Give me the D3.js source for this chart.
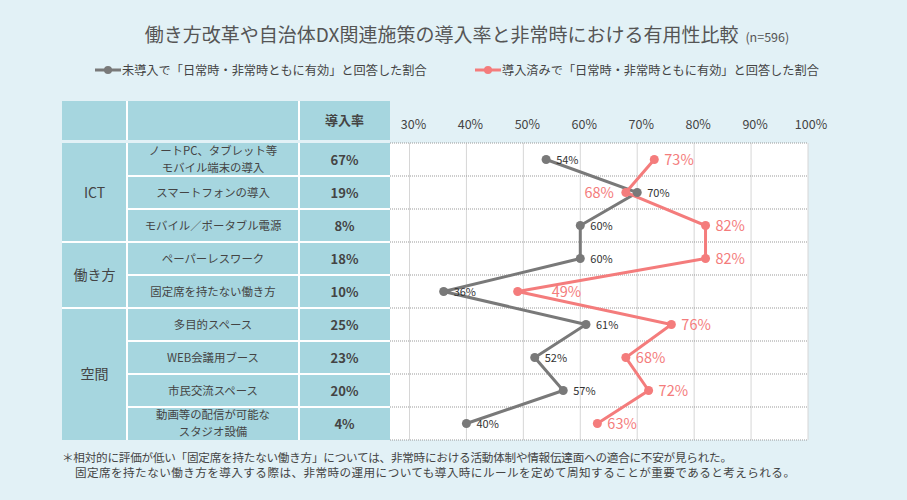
<!DOCTYPE html>
<html>
<head>
<meta charset="utf-8">
<script src="https://cdn.jsdelivr.net/npm/d3@7"></script>
<style>
  body { margin: 0; background: #e2f1f6; }
  svg { display: block; font-family: "Noto Sans CJK JP", "Noto Sans", sans-serif; }
</style>
</head>
<body>
<svg id="chart" width="907" height="500"></svg>
<script>
// data
var groups = [
  {name: "ICT", rows: 3},
  {name: "働き方", rows: 2},
  {name: "空間", rows: 4}
];
var items = [
  ["ノートPC、タブレット等", "モバイル端末の導入"],
  ["スマートフォンの導入"],
  ["モバイル／ポータブル電源"],
  ["ペーパーレスワーク"],
  ["固定席を持たない働き方"],
  ["多目的スペース"],
  ["WEB会議用ブース"],
  ["市民交流スペース"],
  ["動画等の配信が可能な", "スタジオ設備"]
];
var adoption = [67, 19, 8, 18, 10, 25, 23, 20, 4];
var notAdopted = [54, 70, 60, 60, 36, 61, 52, 57, 40];
var adopted = [73, 68, 82, 82, 49, 76, 68, 72, 63];
var ticks = [30, 40, 50, 60, 70, 80, 90, 100];

var grayColor = "#797979";
var pinkColor = "#f47c7c";
var cellColor = "#a6d6df";
var textColor = "#444";

var svg = d3.select("#chart");

// title
var title = svg.append("text")
  .attr("x", 467)
  .attr("y", 41.5)
  .attr("text-anchor", "middle")
  .style("fill", "#555")
  .style("font-size", "19px");
title.append("tspan").text("働き方改革や自治体DX関連施策の導入率と非常時における有用性比較");
title.append("tspan").attr("dx", 7).style("font-size", "12.5px").text("(n=596)");

// legend
var legend = [
  {x: 95, color: grayColor, label: "未導入で「日常時・非常時ともに有効」と回答した割合"},
  {x: 475, color: pinkColor, label: "導入済みで「日常時・非常時ともに有効」と回答した割合"}
];
legend.forEach(function(l) {
  var g = svg.append("g").attr("transform", "translate(" + l.x + ",70)");
  g.append("line").attr("x1", 0).attr("x2", 26).attr("y1", 0).attr("y2", 0)
    .style("stroke", l.color).style("stroke-width", 3);
  g.append("circle").attr("cx", 13).attr("cy", 0).attr("r", 4).style("fill", l.color);
  g.append("text").attr("x", 27).attr("y", 4.5)
    .style("font-size", "12.2px").style("fill", textColor).text(l.label);
});

// layout
var tableX = [62, 127, 299, 390];
var headTop = 101, headBottom = 140;
var rowTop = 143, rowH = 33;

var x = d3.scaleLinear().domain([30, 100]).range([409.5, 808]);
var y = d3.scaleBand().domain(d3.range(items.length))
  .range([rowTop, rowTop + rowH * items.length]);
var yc = function(i) { return y(i) + y.bandwidth() / 2; };

// table header
svg.append("rect").attr("x", tableX[0]).attr("y", headTop)
  .attr("width", tableX[3] - tableX[0]).attr("height", headBottom - headTop)
  .style("fill", cellColor);
[tableX[1], tableX[2]].forEach(function(cx) {
  svg.append("line").attr("x1", cx).attr("x2", cx).attr("y1", headTop).attr("y2", headBottom)
    .style("stroke", "#fff").style("stroke-width", 2);
});
svg.append("text").attr("x", (tableX[2] + tableX[3]) / 2).attr("y", 125)
  .attr("text-anchor", "middle").style("font-size", "13px").style("font-weight", "bold")
  .style("fill", textColor).text("導入率");

// table body
var body = svg.append("g");
body.append("rect").attr("x", tableX[0]).attr("y", rowTop)
  .attr("width", tableX[3] - tableX[0]).attr("height", rowH * items.length)
  .style("fill", cellColor);

// row separators for item + rate columns
body.selectAll(".rowline").data(d3.range(1, items.length)).enter().append("line")
  .attr("x1", tableX[1]).attr("x2", tableX[3])
  .attr("y1", function(i) { return y(i); }).attr("y2", function(i) { return y(i); })
  .style("stroke", "#fff").style("stroke-width", 2);

// group separators and labels
var start = 0;
groups.forEach(function(gr, gi) {
  var top = y(start), bot = y(start + gr.rows - 1) + y.bandwidth();
  if (gi > 0) {
    body.append("line").attr("x1", tableX[0]).attr("x2", tableX[1])
      .attr("y1", top).attr("y2", top).style("stroke", "#fff").style("stroke-width", 2);
  }
  body.append("text").attr("x", (tableX[0] + tableX[1]) / 2).attr("y", (top + bot) / 2 + 5)
    .attr("text-anchor", "middle").style("font-size", "14px").style("fill", textColor)
    .text(gr.name);
  start += gr.rows;
});
[tableX[1], tableX[2]].forEach(function(cx) {
  body.append("line").attr("x1", cx).attr("x2", cx).attr("y1", rowTop)
    .attr("y2", rowTop + rowH * items.length).style("stroke", "#fff").style("stroke-width", 2);
});

// item names, one text per line
items.forEach(function(d, i) {
  var lh = 16.6;
  var y0 = yc(i) + 4 - (d.length - 1) * lh / 2;
  d.forEach(function(s, k) {
    body.append("text")
      .attr("x", (tableX[1] + tableX[2]) / 2)
      .attr("y", y0 + k * lh)
      .attr("text-anchor", "middle")
      .style("font-size", "11.4px").style("fill", textColor)
      .text(s);
  });
});

// adoption rates
body.selectAll(".rate").data(adoption).enter().append("text")
  .attr("x", (tableX[2] + tableX[3]) / 2)
  .attr("y", function(d, i) { return yc(i) + 5; })
  .attr("text-anchor", "middle")
  .style("font-size", "13px").style("font-weight", "bold").style("fill", textColor)
  .text(function(d) { return d + "%"; });

// plot area
var plot = svg.append("g");
plot.append("rect").attr("x", tableX[3]).attr("y", rowTop)
  .attr("width", x(100) - tableX[3]).attr("height", rowH * items.length)
  .style("fill", "#fff");

plot.selectAll(".vgrid").data(ticks).enter().append("line")
  .attr("x1", function(d) { return x(d); }).attr("x2", function(d) { return x(d); })
  .attr("y1", rowTop).attr("y2", rowTop + rowH * items.length)
  .style("stroke", "#d6d6d6").style("stroke-width", 1);

plot.selectAll(".hgrid").data(d3.range(items.length + 1)).enter().append("line")
  .attr("x1", tableX[3]).attr("x2", x(100))
  .attr("y1", function(i) { return rowTop + i * rowH; })
  .attr("y2", function(i) { return rowTop + i * rowH; })
  .style("stroke", "#999").style("stroke-width", 1).style("stroke-dasharray", "1,1");

// tick labels
svg.selectAll(".tick").data(ticks).enter().append("text")
  .attr("x", function(d) { return x(d) + (d === 100 ? 3 : 4); })
  .attr("y", 129)
  .attr("text-anchor", "middle")
  .style("font-size", "12.5px").style("fill", textColor)
  .text(function(d) { return d + "%"; });

// lines
var line = d3.line().x(function(d) { return x(d); }).y(function(d, i) { return yc(i); });

plot.append("path").datum(notAdopted).attr("d", line)
  .style("fill", "none").style("stroke", grayColor).style("stroke-width", 3);
plot.append("path").datum(adopted).attr("d", line)
  .style("fill", "none").style("stroke", pinkColor).style("stroke-width", 3);

plot.selectAll(".gdot").data(notAdopted).enter().append("circle")
  .attr("cx", function(d) { return x(d); }).attr("cy", function(d, i) { return yc(i); })
  .attr("r", 4.5).style("fill", grayColor);
plot.selectAll(".pdot").data(adopted).enter().append("circle")
  .attr("cx", function(d) { return x(d); }).attr("cy", function(d, i) { return yc(i); })
  .attr("r", 4.5).style("fill", pinkColor);

// value labels
plot.selectAll(".glab").data(notAdopted).enter().append("text")
  .attr("x", function(d) { return x(d) + 10; })
  .attr("y", function(d, i) { return yc(i) + 4; })
  .style("font-size", "11px").style("fill", "#333")
  .text(function(d) { return d + "%"; });

plot.selectAll(".plab").data(adopted).enter().append("text")
  .attr("x", function(d, i) {
    if (i === 1) return x(d) - 12;   // left of the point, clears the gray label
    if (i === 4) return x(d) + 34;
    return x(d) + 10;
  })
  .attr("y", function(d, i) { return yc(i) + 5.5; })
  .attr("text-anchor", function(d, i) { return i === 1 ? "end" : "start"; })
  .style("font-size", "14.5px").style("fill", pinkColor)
  .text(function(d) { return d + "%"; });

// footnote
var note = [
  "＊相対的に評価が低い「固定席を持たない働き方」については、非常時における活動体制や情報伝達面への適合に不安が見られた。",
  "固定席を持たない働き方を導入する際は、非常時の運用についても導入時にルールを定めて周知することが重要であると考えられる。"
];
var noteX = [62, 75], noteW = [670, 720];
svg.selectAll(".note").data(note).enter().append("text")
  .attr("x", function(d, i) { return noteX[i]; })
  .attr("y", function(d, i) { return 462 + i * 14.5; })
  .attr("textLength", function(d, i) { return noteW[i]; })
  .attr("lengthAdjust", "spacing")
  .style("font-size", "11.6px").style("fill", textColor)
  .text(function(d) { return d; });
</script>
</body>
</html>
